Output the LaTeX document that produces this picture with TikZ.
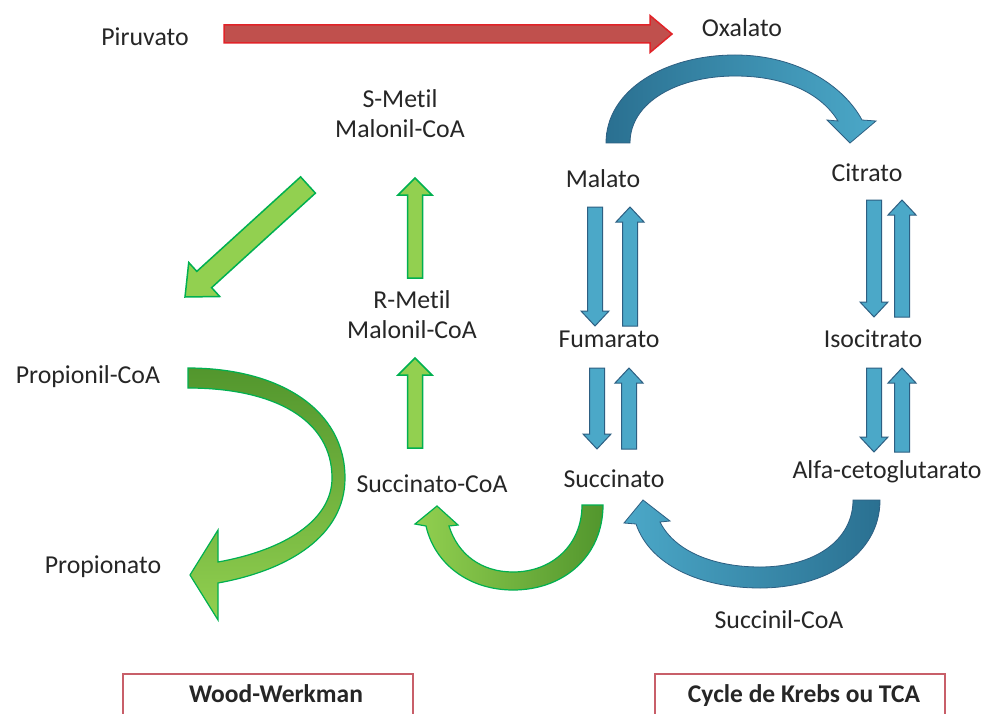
\documentclass[tikz,border=0pt]{standalone}
\usepackage{fontspec}
\setmainfont{Carlito}[Ligatures={NoCommon}]
\usetikzlibrary{calc}

\definecolor{krebsblue}{RGB}{75,168,200}
\definecolor{krebsdark}{RGB}{42,112,145}
\definecolor{krebsline}{RGB}{45,95,130}
\definecolor{wwlight}{RGB}{146,208,80}
\definecolor{wwdark}{RGB}{82,150,45}
\definecolor{wwline}{RGB}{0,176,80}
\definecolor{pirufill}{RGB}{192,80,77}
\definecolor{piruline}{RGB}{225,35,40}
\definecolor{boxline}{RGB}{200,95,105}

\newcommand\blockarrow[6][]{%
  \path let \p1=#2, \p2=#3, \n1={atan2(\y2-\y1,\x2-\x1)}, \n2={veclen(\x2-\x1,\y2-\y1)} in
    \pgfextra{\xdef\arrang{\n1}\xdef\arrlen{\n2}};
  \filldraw[#1, shift={#2}, rotate=\arrang]
    (0pt,-#4pt) -- (\arrlen-#6pt,-#4pt) -- (\arrlen-#6pt,-#5pt) -- (\arrlen,0pt)
    -- (\arrlen-#6pt,#5pt) -- (\arrlen-#6pt,#4pt) -- (0pt,#4pt) -- cycle;
}

\begin{document}
\begin{tikzpicture}[x=1pt,y=-1pt,
    label/.style={anchor=base, text=black!85, font=\fontsize{25.8}{30}\selectfont, align=center, inner sep=0pt},
    boxlabel/.style={label, font=\fontsize{25.5}{30}\selectfont\bfseries},
    titlebox/.style={draw=boxline, line width=2pt, fill=white},
    blueflat/.style={fill=krebsblue, draw=krebsline, line width=1pt},
    greenflat/.style={fill=wwlight, draw=wwline, line width=1.5pt},
    redflat/.style={fill=pirufill, draw=piruline, line width=1.5pt},
    bluecurve/.style={draw=krebsline, line width=0.8pt},
    greencurve/.style={draw=wwline, line width=1.2pt}]
  \path[use as bounding box, fill=white] (0,0) rectangle (987,714);

  \node[label] (piru) at (145,46) {Piruvato};
  \node[label] (oxa) at (742,37) {Oxalato};
  \node[label] (smet) at (400,138) {S-Metil\\Malonil-CoA};
  \node[label] (mala) at (603,188) {Malato};
  \node[label] (citr) at (867,182) {Citrato};
  \node[label] (rmet) at (412,338) {R-Metil\\Malonil-CoA};
  \node[label] (fuma) at (609,347) {Fumarato};
  \node[label] (isoc) at (873,347) {Isocitrato};
  \node[label] (prop) at (88,383) {Propionil-CoA};
  \node[label] (succoa) at (432,492) {Succinato-CoA};
  \node[label] (succ) at (614,487) {Succinato};
  \node[label] (alfa) at (887,478) {Alfa-cetoglutarato};
  \node[label] (propa) at (103,573) {Propionato};
  \node[label] (sucl) at (779,628) {Succinil-CoA};

  \blockarrow[redflat]{(224,34)}{(672,34)}{9}{18.5}{22}

  \blockarrow[greenflat]{(308,185)}{(185,297)}{11}{23}{26}
  \blockarrow[greenflat]{(415,278)}{(415,178)}{7.5}{17}{17}
  \blockarrow[greenflat]{(415,448)}{(415,358)}{7.5}{17}{17}

  \foreach \xa/\xb/\ya/\yb in {595/630/207/326, 874/902/200/317, 597/629/368/449, 874/902/368/452}{
    \blockarrow[blueflat]{(\xa,\ya)}{(\xa,\yb)}{7.5}{14}{15}
    \blockarrow[blueflat]{(\xb,\yb)}{(\xb,\ya)}{7.5}{14}{15}
  }

  \draw[bluecurve, left color=krebsdark, right color=krebsblue]
    (606,143) .. controls (606,90) and (665,55) .. (735,55)
    .. controls (800,55) and (845,88) .. (862,120) -- (876,121) -- (850,143) -- (827,120) -- (838,121)
    .. controls (822,95) and (788,76) .. (735,76)
    .. controls (678,76) and (630,102) .. (630,143) -- cycle;

  \draw[bluecurve, left color=krebsblue, right color=krebsdark]
    (880,500) .. controls (880,555) and (825,588) .. (760,588)
    .. controls (700,588) and (650,565) .. (636,524) -- (624,523) -- (643,500) -- (670,521) -- (660,522)
    .. controls (675,552) and (715,567) .. (760,567)
    .. controls (815,567) and (853,540) .. (853,500) -- cycle;

  \draw[greencurve, left color=wwlight, right color=wwdark]
    (603,505) .. controls (603,555) and (565,590) .. (513,590)
    .. controls (470,590) and (435,565) .. (426,526) -- (415,524) -- (437,506) -- (458,525) -- (449,526)
    .. controls (458,555) and (482,572) .. (513,572)
    .. controls (552,572) and (582,545) .. (582,505) -- cycle;

  \draw[greencurve, top color=wwdark, bottom color=wwlight]
    (188,368) .. controls (280,368) and (345,410) .. (345,478)
    .. controls (345,535) and (290,570) .. (218,583) -- (218,620) -- (190,575) -- (218,530) -- (218,562)
    .. controls (285,550) and (332,520) .. (332,478)
    .. controls (332,420) and (275,388) .. (188,388) -- cycle;

  \draw[titlebox] (123,674) rectangle (413,730);
  \node[boxlabel] (ww) at (276,702) {Wood-Werkman};
  \draw[titlebox] (655,674) rectangle (945,730);
  \node[boxlabel] (tca) at (804,702) {Cycle de Krebs ou TCA};
\end{tikzpicture}
\end{document}
